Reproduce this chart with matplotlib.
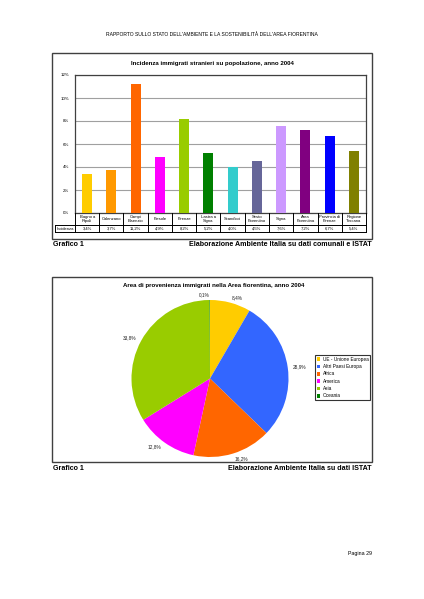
import matplotlib
matplotlib.use("Agg")
import matplotlib.pyplot as plt
from matplotlib.patches import Rectangle
from matplotlib.lines import Line2D

# ---------------- data ----------------
header_text = "RAPPORTO SULLO STATO DELL'AMBIENTE E LA SOSTENIBILITÀ DELL'AREA FIORENTINA"

bar_title = "Incidenza immigrati stranieri su popolazione, anno 2004"
bar_categories = ["Bagno a\nRipoli", "Calenzano", "Campi\nBisenzio", "Fiesole", "Firenze",
                  "Lastra a\nSigna", "Scandicci", "Sesto\nFiorentino", "Signa", "Area\nFiorentina",
                  "Provincia di\nFirenze", "Regione\nToscana"]
bar_values = [3.4, 3.7, 11.2, 4.9, 8.2, 5.2, 4.0, 4.5, 7.6, 7.2, 6.7, 5.4]
bar_colors = ["#FFCC00", "#FF9900", "#FF6600", "#FF00FF", "#99CC00", "#008000",
              "#33CCCC", "#666699", "#CC99FF", "#800080", "#0000FF", "#808000"]
bar_row_label = "Incidenza"
bar_yticks = [0, 2, 4, 6, 8, 10, 12]
bar_caption_left = "Grafico 1"
bar_caption_right = "Elaborazione Ambiente Italia su dati comunali e ISTAT"

pie_title = "Area di provenienza immigrati nella Area fiorentina, anno 2004"
pie_labels = ["UE - Unione Europea", "Altri Paesi Europa", "Africa", "America", "Asia", "Oceania"]
pie_values = [8.4, 28.9, 16.2, 12.8, 33.8, 0.1]
pie_colors = ["#FFCC00", "#3366FF", "#FF6600", "#FF00FF", "#99CC00", "#008000"]
pie_caption_left = "Grafico 1"
pie_caption_right = "Elaborazione Ambiente Italia su dati ISTAT"

page_label = "Pagina 29"

# ---------------- layout helpers ----------------
W, H = 424, 599
FONT = "Liberation Sans"
plt.rcParams['font.family'] = [FONT, 'DejaVu Sans']

fig = plt.figure(figsize=(W / 100, H / 100), dpi=100)
fig.patch.set_facecolor("white")


def rect(x0, y0, x1, y1):
    return [x0 / W, 1 - y1 / H, (x1 - x0) / W, (y1 - y0) / H]


def ftext(x, y, s, **kw):
    return fig.text(x / W, 1 - y / H, s, **kw)


def fbox(x0, y0, x1, y1, lw=1.0, color="#404040"):
    fig.patches.append(Rectangle((x0 / W, 1 - y1 / H), (x1 - x0) / W, (y1 - y0) / H,
                                 transform=fig.transFigure, fill=False,
                                 edgecolor=color, linewidth=lw))


def fline(x0, y0, x1, y1, lw=0.7, color="black"):
    fig.add_artist(Line2D([x0 / W, x1 / W], [1 - y0 / H, 1 - y1 / H],
                          transform=fig.transFigure, color=color, linewidth=lw))


def fmt(v):
    return f"{v:.1f}%".replace(".", ",")


# header
ftext(212, 35, header_text, ha="center", va="center", fontsize=3.6)

# ---------------- bar chart ----------------
fbox(52, 53, 372, 239)
ftext(212, 63, bar_title, ha="center", va="center", fontsize=4.4, fontweight="bold")

PX0, PX1, PY0, PY1 = 75, 366, 75, 213
ax = fig.add_axes(rect(PX0, PY0, PX1, PY1))
n = len(bar_values)
x = list(range(n))
ax.bar(x, bar_values, width=0.42, color=bar_colors, zorder=3)
ax.set_xlim(-0.5, n - 0.5)
ax.set_ylim(0, 12)
ax.set_yticks(bar_yticks)
ax.set_yticklabels([f"{t}%" for t in bar_yticks])
ax.tick_params(axis="y", labelsize=3.2, length=0, pad=4)
ax.set_xticks([])
ax.yaxis.grid(True, color="#A0A0A0", linewidth=0.8, zorder=0)
for s in ax.spines.values():
    s.set_color("#404040")
    s.set_linewidth(0.9)

# data table under bars (drawn manually)
ROW1, ROW2, ROW3 = PY1, 225, 232
LBL0 = 55
colw = (PX1 - PX0) / n
for i in range(n + 1):
    xx = PX0 + i * colw
    fline(xx, ROW1, xx, ROW3)
fline(PX0, ROW2, PX1, ROW2)
fline(LBL0, ROW2, PX0, ROW2)
fline(LBL0, ROW3, PX1, ROW3)
fline(LBL0, ROW2, LBL0, ROW3)
ftext(LBL0 + 1.5, (ROW2 + ROW3) / 2, bar_row_label, ha="left", va="center", fontsize=3.0)
for i, (cat, v) in enumerate(zip(bar_categories, bar_values)):
    cx = PX0 + (i + 0.5) * colw
    ftext(cx, (ROW1 + ROW2) / 2 + 0.3, cat, ha="center", va="center", fontsize=3.0,
          linespacing=1.0)
    ftext(cx, (ROW2 + ROW3) / 2, fmt(v), ha="center", va="center", fontsize=3.0)

ftext(53, 245, bar_caption_left, ha="left", va="center", fontsize=5.1, fontweight="bold")
ftext(372, 245, bar_caption_right, ha="right", va="center", fontsize=5.1, fontweight="bold")

# ---------------- pie chart ----------------
fbox(52, 277, 372, 462)
ftext(214, 285, pie_title, ha="center", va="center", fontsize=4.4, fontweight="bold")

pax = fig.add_axes(rect(131.5, 300, 288.5, 457))
wedges, texts = pax.pie(pie_values, colors=pie_colors, startangle=90, counterclock=False,
                        labels=[fmt(v) for v in pie_values], labeldistance=1.07,
                        wedgeprops=dict(linewidth=0),
                        textprops=dict(fontsize=3.4, color="#222222"))
for t in texts:
    t.set_va("center")
    t.set_clip_on(False)
pax.set_xlim(-1, 1)
pax.set_ylim(-1, 1)
pax.set_aspect("equal")

leg = fig.legend(wedges, pie_labels, loc="upper left",
                 bbox_to_anchor=(315 / W, 1 - 355 / H), fontsize=3.4,
                 frameon=True, fancybox=False, edgecolor="black",
                 handlelength=0.8, handleheight=0.8, handletextpad=0.5,
                 labelspacing=0.5, borderpad=0.35, borderaxespad=0)
leg.get_frame().set_linewidth(0.8)

ftext(53, 468, pie_caption_left, ha="left", va="center", fontsize=5.1, fontweight="bold")
ftext(372, 468, pie_caption_right, ha="right", va="center", fontsize=5.1, fontweight="bold")

ftext(348, 553, page_label, ha="left", va="center", fontsize=3.8)

fig.savefig("out.png", dpi=100, facecolor="white")
